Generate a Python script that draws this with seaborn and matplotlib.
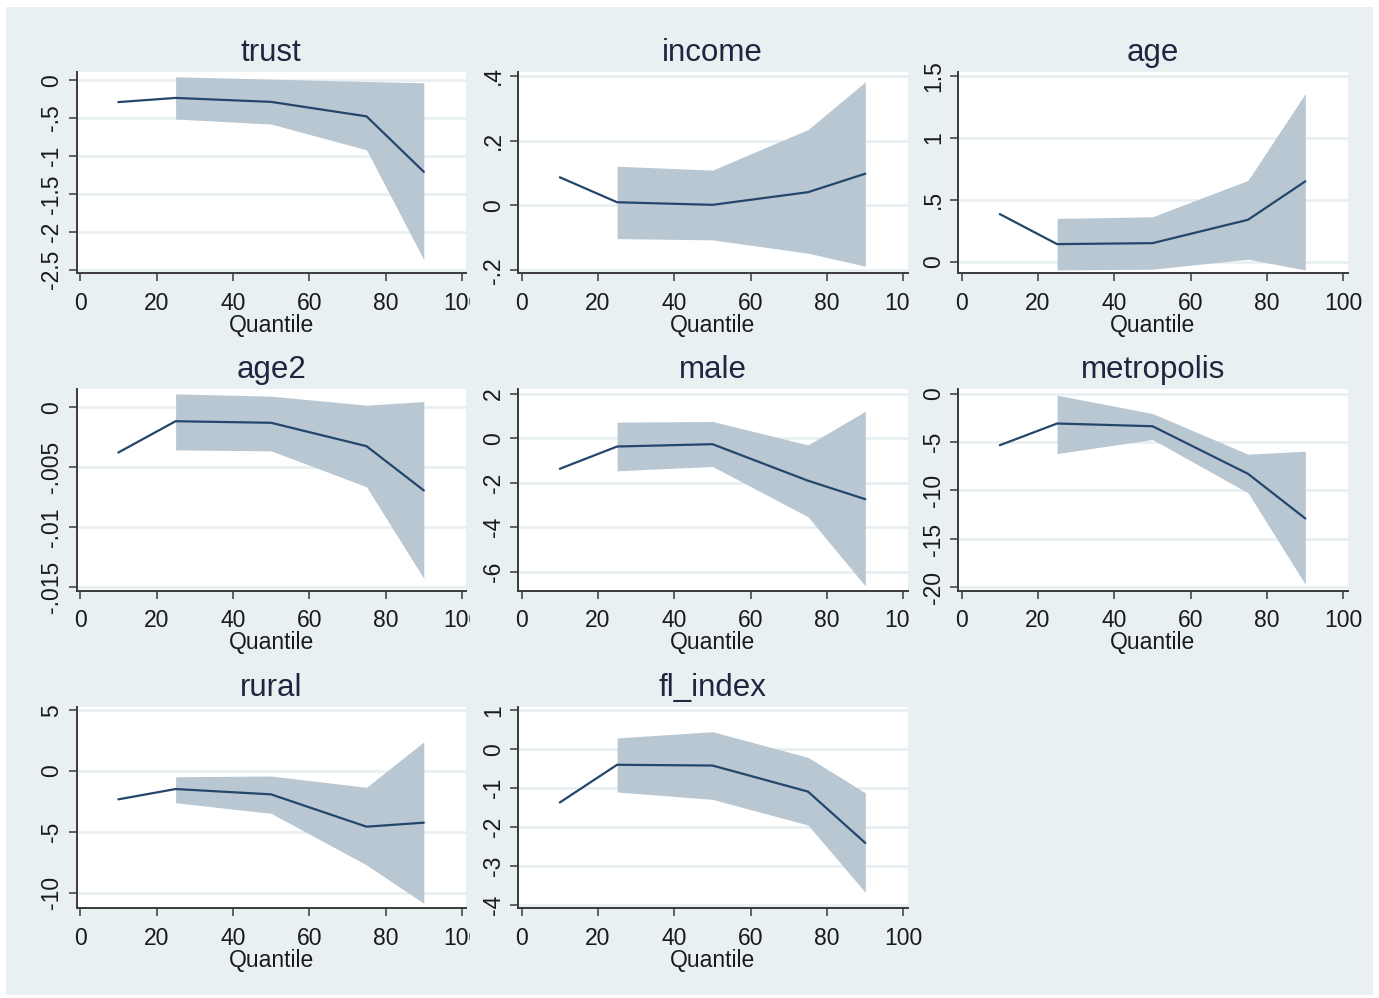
import numpy as np
import matplotlib
matplotlib.use("Agg")
import matplotlib.pyplot as plt
import seaborn as sns
from matplotlib.patches import Rectangle
from matplotlib.ticker import FuncFormatter

# Quantile-regression coefficients with confidence bands
quantiles = [10, 25, 50, 75, 90]
nan = np.nan

trust_coef = [-0.29, -0.235, -0.287, -0.478, -1.21]
trust_lo = [nan, -0.513, -0.58, -0.92, -2.37]
trust_hi = [nan, 0.044, 0.013, -0.018, -0.035]

income_coef = [0.087, 0.010, 0.002, 0.041, 0.098]
income_lo = [nan, -0.102, -0.106, -0.147, -0.187]
income_hi = [nan, 0.121, 0.109, 0.234, 0.381]

age_coef = [0.384, 0.141, 0.149, 0.338, 0.649]
age_lo = [nan, -0.068, -0.062, 0.019, -0.068]
age_hi = [nan, 0.349, 0.362, 0.657, 1.359]

age2_coef = [-0.00378, -0.00117, -0.0013, -0.00325, -0.00694]
age2_lo = [nan, -0.00356, -0.00364, -0.00664, -0.01428]
age2_hi = [nan, 0.00111, 0.00092, 0.00017, 0.00047]

male_coef = [-1.375, -0.374, -0.27, -1.91, -2.74]
male_lo = [nan, -1.465, -1.27, -3.53, -6.64]
male_hi = [nan, 0.72, 0.75, -0.30, 1.21]

metro_coef = [-5.33, -3.09, -3.37, -8.28, -12.89]
metro_lo = [nan, -6.19, -4.74, -10.24, -19.69]
metro_hi = [nan, -0.17, -2.06, -6.25, -5.95]

rural_coef = [-2.33, -1.48, -1.92, -4.58, -4.25]
rural_lo = [nan, -2.61, -3.48, -7.73, -10.89]
rural_hi = [nan, -0.47, -0.41, -1.34, 2.41]

fl_coef = [-1.37, -0.40, -0.42, -1.09, -2.41]
fl_lo = [nan, -1.10, -1.29, -1.95, -3.68]
fl_hi = [nan, 0.29, 0.45, -0.21, -1.12]

x_ticks = [0, 20, 40, 60, 80, 100]

panels = [
    ("trust", trust_coef, trust_lo, trust_hi, [0, -0.5, -1, -1.5, -2, -2.5], (-2.55, 0.11)),
    ("income", income_coef, income_lo, income_hi, [-0.2, 0, 0.2, 0.4], (-0.209, 0.412)),
    ("age", age_coef, age_lo, age_hi, [0, 0.5, 1, 1.5], (-0.095, 1.535)),
    ("age2", age2_coef, age2_lo, age2_hi, [0, -0.005, -0.01, -0.015], (-0.0153, 0.0015)),
    ("male", male_coef, male_lo, male_hi, [2, 0, -2, -4, -6], (-6.85, 2.2)),
    ("metropolis", metro_coef, metro_lo, metro_hi, [0, -5, -10, -15, -20], (-20.34, 0.45)),
    ("rural", rural_coef, rural_lo, rural_hi, [5, 0, -5, -10], (-11.3, 5.29)),
    ("fl_index", fl_coef, fl_lo, fl_hi, [1, 0, -1, -2, -3, -4], (-4.09, 1.09)),
]

BG = "#e8f0f2"
GRID = "#e6eef1"
LINE = "#23466a"
BAND = "#b9c7d3"
AXIS = "#3a3a3a"
TEXT = "#1a1a1a"
TITLE = "#1d2840"

sns.set_theme(style="white")
plt.rcParams["font.family"] = ["Liberation Sans", "DejaVu Sans"]

W, H = 1379, 998
fig = plt.figure(figsize=(W / 100, H / 100), dpi=100, facecolor="white")
fig.patches.append(Rectangle((6 / W, 1 - 995 / H), (1373 - 6) / W, (995 - 7) / H,
                             transform=fig.transFigure, facecolor=BG,
                             edgecolor="none", zorder=-5))

col_left = [76.5, 518.0, 958.0]
col_cell = [6, 470, 910, 1373]
row_bottom = [273.3, 590.7, 908.3]
row_cell = [7, 340, 658, 995]
ax_w, ax_h = 389.5, 201.5


def stata_fmt(v, pos=None):
    if abs(v) < 1e-12:
        return "0"
    return f"{v:g}".replace("0.", ".")


for i, (name, coef, lo, hi, yticks, ylim) in enumerate(panels):
    r, c = divmod(i, 3)
    if c > 0:
        # each cell's backdrop trims whatever spills over from the cell to its left
        cover = fig.add_axes([col_cell[c] / W, 1 - row_cell[r + 1] / H,
                              (col_cell[c + 1] - col_cell[c]) / W,
                              (row_cell[r + 1] - row_cell[r]) / H])
        cover.axis("off")
        cover.add_patch(Rectangle((0, 0), 1, 1, transform=cover.transAxes,
                                  facecolor=BG, edgecolor="none"))
    ax = fig.add_axes([col_left[c] / W, 1 - row_bottom[r] / H, ax_w / W, ax_h / H])
    ax.set_facecolor("white")

    ax.fill_between(quantiles, lo, hi, color=BAND, linewidth=0, zorder=2)
    sns.lineplot(x=quantiles, y=coef, ax=ax, color=LINE, linewidth=1.6, zorder=3)

    ax.set_xlim(-0.95, 101.05)
    ax.set_ylim(*ylim)
    ax.set_xticks(x_ticks)
    ax.set_yticks(yticks)
    ax.yaxis.set_major_formatter(FuncFormatter(stata_fmt))
    ax.yaxis.grid(True, color=GRID, linewidth=1.8)
    ax.xaxis.grid(False)
    ax.set_axisbelow(True)

    for side in ("top", "right"):
        ax.spines[side].set_visible(False)
    for side in ("left", "bottom"):
        ax.spines[side].set_color(AXIS)
        ax.spines[side].set_linewidth(1.4)

    ax.tick_params(axis="both", which="major", direction="out", length=5.5,
                   width=1.1, color=AXIS, labelcolor=TEXT, labelsize=16.5,
                   left=True, bottom=True)
    ax.tick_params(axis="x", pad=8)
    ax.tick_params(axis="y", pad=4)
    for lab in ax.get_yticklabels():
        lab.set_rotation(90)
        lab.set_va("center")

    ax.set_xlabel("Quantile", fontsize=16.5, color=TEXT, labelpad=-1)
    ax.set_ylabel("")
    ax.set_title(name, fontsize=22.5, color=TITLE, pad=8)

fig.savefig("out.png", dpi=100, facecolor="white")
